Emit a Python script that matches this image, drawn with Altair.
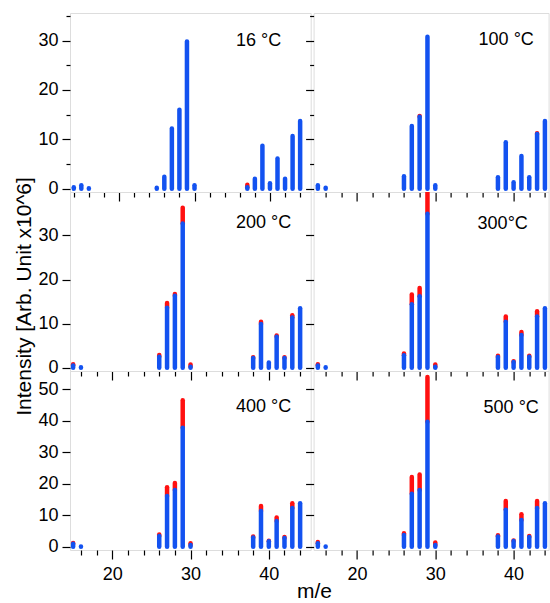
import altair as alt
import pandas as pd

# ---------------- data ----------------
MASS_16C = [14, 15, 16, 25, 26, 27, 28, 29, 30, 37, 38, 39, 40, 41, 42, 43, 44]
BLUE_16C = [0.3, 0.7, 0.1, 0.2, 2.4, 12.2, 16.0, 29.8, 0.7, 0.3, 2.0, 8.7, 1.1, 6.1, 2.0, 10.7, 13.7]
RED_16C = [0, 0, 0, 0, 0, 0, 0, 0, 0, 0.5, 0, 0, 0, 0, 0, 0, 0]

MASS = [15, 16, 26, 27, 28, 29, 30, 38, 39, 40, 41, 42, 43, 44]
BLUE_100C = [0.7, 0.2, 2.5, 12.7, 14.6, 30.8, 0.7, 2.3, 9.4, 1.3, 6.6, 2.3, 11.1, 13.7]
RED_100C = [0, 0, 0, 0, 0.15, 0, 0, 0, 0, 0, 0, 0, 0.15, 0]
BLUE_200C = [0.5, 0.1, 2.5, 13.6, 16.3, 32.7, 0.2, 2.2, 9.9, 1.2, 7.0, 2.2, 11.4, 13.5]
RED_200C = [0.3, 0, 0.4, 1.1, 0.4, 3.6, 0.5, 0.15, 0.5, 0, 0.3, 0.15, 0.5, 0]
BLUE_300C = [0.5, 0.1, 2.8, 14.4, 16.2, 34.9, 0.2, 2.4, 10.4, 1.3, 7.4, 2.5, 11.6, 13.5]
RED_300C = [0.3, 0, 0.4, 2.2, 1.9, 6.5, 0.5, 0.3, 1.2, 0.15, 0.7, 0.2, 1.2, 0]
BLUE_400C = [0.9, 0.1, 3.4, 16.1, 18.0, 37.8, 0.5, 2.9, 11.3, 1.7, 8.2, 2.8, 12.3, 13.8]
RED_400C = [0.3, 0, 0.5, 2.8, 2.2, 8.7, 0.6, 0.3, 1.6, 0.2, 1.1, 0.3, 1.5, 0]
BLUE_500C = [1.1, 0.1, 3.7, 16.8, 18.0, 39.7, 0.5, 3.2, 11.7, 1.8, 8.5, 3.1, 12.3, 13.8]
RED_500C = [0.4, 0, 0.6, 5.3, 4.9, 14.2, 0.8, 0.4, 2.8, 0.2, 1.8, 0.3, 2.2, 0]

LABELS = ["16 °C", "100 °C", "200 °C", "300°C", "400 °C", "500 °C"]
X_TICKS = list(range(14, 46, 2))
Y_TICKS_ROW1 = [0, 5, 10, 15, 20, 25, 30, 35]
Y_TICKS_ROW2 = [0, 10, 20, 30]
Y_TICKS_ROW3 = [0, 10, 20, 30, 40, 50]
X_TITLE = "m/e"
Y_TITLE = "Intensity [Arb. Unit x10^6]"

# ---------------- style ----------------
BLUE = "#1352F0"
RED = "#FF1010"
FONT = "Liberation Sans"
H = 179
W_LEFT = 240.7
W_RIGHT = 235


def panel(mass, blue, red, label, xdom, ydom, width, yticks,
          xlabels, ylabels, xtitle, ytitle, lab_x, lab_y):
    df = pd.DataFrame({"m": mass, "blue": blue, "red": red})
    df["total"] = df["blue"] + df["red"]
    df["zero"] = 0.0
    xt = [v for v in X_TICKS if xdom[0] <= v <= xdom[1]]

    xkw = dict(
        values=xt,
        tickSize={"condition": {"test": "datum.value % 10 === 0", "value": 9}, "value": 5},
        labels=xlabels,
        labelExpr="datum.value % 10 === 0 ? datum.label : ''",
        labelFontSize=18, labelFont=FONT, labelColor="black", labelPadding=6,
        tickColor="black", tickWidth=1.2, domain=False, grid=False,
    )
    if xtitle:
        xkw.update(title=X_TITLE, titleX=244, titleY=47, titleAlign="center",
                   titleBaseline="alphabetic", titleFontSize=21, titleFont=FONT,
                   titleFontWeight="normal", titleColor="black", titleAngle=0)
    else:
        xkw.update(title=None)

    ykw = dict(
        values=yticks,
        tickSize={"condition": {"test": "datum.value % 10 === 0", "value": 8}, "value": 4},
        labels=ylabels,
        labelExpr="datum.value % 10 === 0 ? datum.label : ''",
        labelFontSize=18, labelFont=FONT, labelColor="black", labelPadding=4,
        tickColor="black", tickWidth=1.2, domain=False, grid=False,
    )
    if ytitle:
        ykw.update(title=Y_TITLE, titleX=-40, titleY=104, titleAlign="center",
                   titleBaseline="alphabetic", titleFontSize=21, titleFont=FONT,
                   titleFontWeight="normal", titleColor="black", titleAngle=270)
    else:
        ykw.update(title=None)

    X = alt.X("m:Q", scale=alt.Scale(domain=xdom, nice=False, zero=False),
              axis=alt.Axis(**xkw))

    def Y(field):
        return alt.Y(field, scale=alt.Scale(domain=ydom, nice=False, zero=False),
                     axis=alt.Axis(**ykw))

    base = alt.Chart(df)
    red_layer = base.transform_filter("datum.red > 0").mark_rule(
        color=RED, strokeWidth=4.5, strokeCap="round", clip=True
    ).encode(x=X, y=Y("blue:Q"), y2="total:Q")
    blue_layer = base.mark_rule(
        color=BLUE, strokeWidth=4.5, strokeCap="round", clip=True
    ).encode(x=X, y=Y("zero:Q"), y2="blue:Q")
    text = alt.Chart(pd.DataFrame({"t": [label]})).mark_text(
        align="left", baseline="alphabetic", fontSize=18, font=FONT, color="black"
    ).encode(text="t:N", x=alt.value(lab_x), y=alt.value(lab_y))

    return alt.layer(red_layer, blue_layer, text).properties(width=width, height=H)


XL1 = [13.5, 45.4]
XL = [14.6, 45.35]
XR = [14.46, 44.47]
Y1 = [-0.67, 35.6]
Y2 = [-0.75, 39.85]
Y3 = [-1.05, 55.8]

p16 = panel(MASS_16C, BLUE_16C, RED_16C, LABELS[0], XL1, Y1, W_LEFT, Y_TICKS_ROW1,
            False, True, False, False, 166, 33)
p100 = panel(MASS, BLUE_100C, RED_100C, LABELS[1], XR, Y1, W_RIGHT, Y_TICKS_ROW1,
             False, False, False, False, 165, 31.5)
p200 = panel(MASS, BLUE_200C, RED_200C, LABELS[2], XL, Y2, W_LEFT, Y_TICKS_ROW2,
             False, True, False, True, 166, 35.5)
p300 = panel(MASS, BLUE_300C, RED_300C, LABELS[3], XR, Y2, W_RIGHT, Y_TICKS_ROW2,
             False, False, False, False, 164, 37)
p400 = panel(MASS, BLUE_400C, RED_400C, LABELS[4], XL, Y3, W_LEFT, Y_TICKS_ROW3,
             True, True, True, False, 166, 41)
p500 = panel(MASS, BLUE_500C, RED_500C, LABELS[5], XR, Y3, W_RIGHT, Y_TICKS_ROW3,
             True, False, False, False, 170, 42)

chart = alt.concat(
    p16, p100, p200, p300, p400, p500,
    columns=2, spacing={"row": 0, "column": 2.6}, bounds="flush", align="each"
).properties(
    padding={"left": 12, "top": 12, "right": 0, "bottom": 0}
).configure_view(
    stroke="black", strokeWidth=1.3
).configure(font=FONT, background="white")

chart.save("out.html", embed_options={"renderer": "svg", "actions": False})
